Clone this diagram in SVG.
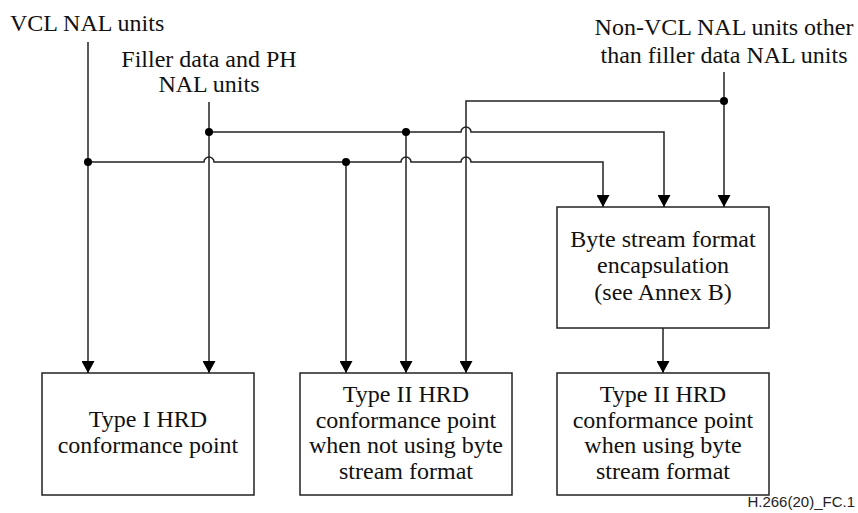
<svg xmlns="http://www.w3.org/2000/svg" width="858" height="513" viewBox="0 0 858 513">
<style>
.t{font-size:24px;fill:#111;text-anchor:middle}
.box{fill:#fff;stroke:#222;stroke-width:1.5}
.ln{fill:none;stroke:#222;stroke-width:1.5}
.dot{fill:#000}
</style>
<defs>
<marker id="ah" markerUnits="userSpaceOnUse" markerWidth="13" markerHeight="13" refX="12" refY="6.5" orient="auto">
<path d="M0,0 L12,6.5 L0,13 z" fill="#000"/>
</marker>
</defs>
<rect width="858" height="513" fill="#fff"/>
<g font-family="Liberation Serif, Times New Roman, serif">
<g id="labels">
<text class="t" x="10" y="31" text-anchor="start" style="text-anchor:start">VCL NAL units</text>
<text class="t" x="209" y="67">Filler data and PH</text>
<text class="t" x="209" y="92">NAL units</text>
<text class="t" x="724" y="35">Non-VCL NAL units other</text>
<text class="t" x="724" y="63">than filler data NAL units</text>
</g>
<g id="connectors">
<path class="ln" d="M88 42 V373" marker-end="url(#ah)"/>
<path class="ln" d="M209 102 V373" marker-end="url(#ah)"/>
<path class="ln" d="M88 162 H204 a5 5 0 0 1 10 0 H401 a5 5 0 0 1 10 0 H461 a5 5 0 0 1 10 0 H603 V207" marker-end="url(#ah)"/>
<path class="ln" d="M209 132 H461 a5 5 0 0 1 10 0 H664 V207" marker-end="url(#ah)"/>
<path class="ln" d="M346 162 V373" marker-end="url(#ah)"/>
<path class="ln" d="M406 132 V373" marker-end="url(#ah)"/>
<path class="ln" d="M724 72 V207" marker-end="url(#ah)"/>
<path class="ln" d="M724 101 H466 V373" marker-end="url(#ah)"/>
<path class="ln" d="M663 328 V373" marker-end="url(#ah)"/>
<circle class="dot" cx="88" cy="162" r="4"/>
<circle class="dot" cx="209" cy="132" r="4"/>
<circle class="dot" cx="346" cy="162" r="4"/>
<circle class="dot" cx="406" cy="132" r="4"/>
<circle class="dot" cx="724" cy="101" r="4"/>
</g>
<g id="byte-stream">
<rect class="box" x="557" y="207" width="212" height="121"/>
<text class="t" x="663" y="247">Byte stream format</text>
<text class="t" x="663" y="273">encapsulation</text>
<text class="t" x="663" y="300">(see Annex B)</text>
</g>
<g id="type1">
<rect class="box" x="42" y="373" width="212" height="122"/>
<text class="t" x="148" y="427">Type I HRD</text>
<text class="t" x="148" y="453">conformance point</text>
</g>
<g id="type2-nobyte">
<rect class="box" x="300" y="373" width="212" height="122"/>
<text class="t" x="406" y="402">Type II HRD</text>
<text class="t" x="406" y="428">conformance point</text>
<text class="t" x="406" y="453">when not using byte</text>
<text class="t" x="406" y="479">stream format</text>
</g>
<g id="type2-byte">
<rect class="box" x="557" y="373" width="212" height="122"/>
<text class="t" x="663" y="402">Type II HRD</text>
<text class="t" x="663" y="428">conformance point</text>
<text class="t" x="663" y="453">when using byte</text>
<text class="t" x="663" y="479">stream format</text>
</g>
</g>
<text x="855" y="507" font-family="Liberation Sans, Arial, sans-serif" font-size="15" fill="#222" text-anchor="end">H.266(20)_FC.1</text>
</svg>
